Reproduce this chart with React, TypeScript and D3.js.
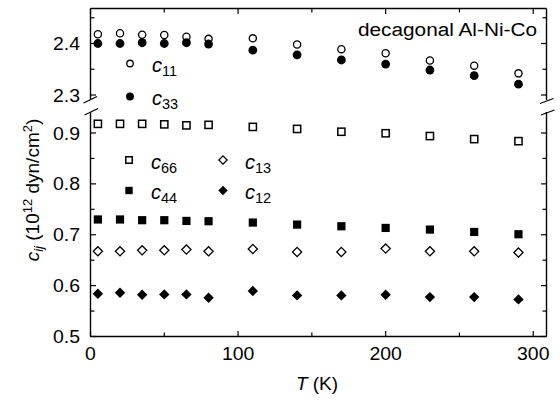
import React from "react";
import * as d3 from "d3";

const T = [5, 20, 35, 50, 65, 80, 110, 140, 170, 200, 230, 260, 290];
const c11 = [2.418, 2.42, 2.417, 2.4165, 2.413, 2.409, 2.41, 2.398, 2.389, 2.381, 2.367, 2.357, 2.342];
const c33 = [2.4, 2.4, 2.4015, 2.4, 2.4015, 2.399, 2.387, 2.378, 2.368, 2.36, 2.3485, 2.3375, 2.321];
const c66 = [0.918, 0.918, 0.918, 0.917, 0.915, 0.916, 0.912, 0.908, 0.9025, 0.8995, 0.894, 0.888, 0.884];
const c44 = [0.73, 0.73, 0.7286, 0.7286, 0.7272, 0.7266, 0.724, 0.72, 0.7167, 0.7134, 0.7102, 0.7055, 0.701];
const c13 = [0.6675, 0.6675, 0.6695, 0.6695, 0.6708, 0.6675, 0.672, 0.6661, 0.6661, 0.6728, 0.6675, 0.6675, 0.665];
const c12 = [0.5841, 0.5861, 0.5822, 0.5828, 0.5828, 0.5763, 0.5893, 0.5808, 0.5808, 0.5822, 0.5774, 0.5774, 0.5729];

const xMajor = [0, 100, 200, 300];
const xMinor = [50, 150, 250];
const yLoMajor = [0.5, 0.6, 0.7, 0.8, 0.9];
const yLoMinor = [0.55, 0.65, 0.75, 0.85];
const yUpMajor = [2.3, 2.4];
const yUpMinor = [2.35, 2.45];

const FONT = "'Liberation Sans', Arial, Helvetica, sans-serif";

const L = 90.5, R = 546.5, TOP = 8.5, BOT = 336.5;
const UP_END = 100, LO_START = 112;

const x = d3.scaleLinear().domain([0, 309]).range([L, R]);
const yUp = d3.scaleLinear().domain([2.3, 2.4]).range([95, 43.5]);
const yLo = d3.scaleLinear().domain([0.5, 0.9]).range([336.5, 133]);

type Shape = "circleOpen" | "circleFilled" | "squareOpen" | "squareFilled" | "diamondOpen" | "diamondFilled";

function Marker({ cx, cy, shape, k = 1 }: { cx: number; cy: number; shape: Shape; k?: number }) {
  switch (shape) {
    case "circleOpen":
      return <circle cx={cx} cy={cy} r={3.6 * k} fill="#fff" stroke="#000" strokeWidth={1.3} />;
    case "circleFilled":
      return <circle cx={cx} cy={cy} r={4.4 * k} fill="#000" />;
    case "squareOpen": {
      const h = 3.6 * k;
      return <rect x={cx - h} y={cy - h} width={2 * h} height={2 * h} fill="#fff" stroke="#000" strokeWidth={1.5} />;
    }
    case "squareFilled": {
      const h = 4.1 * k;
      return <rect x={cx - h} y={cy - h} width={2 * h} height={2 * h} fill="#000" />;
    }
    case "diamondOpen": {
      const h = 4.6 * k;
      return <path d={`M${cx},${cy - h}L${cx + h},${cy}L${cx},${cy + h}L${cx - h},${cy}Z`} fill="#fff" stroke="#000" strokeWidth={1.3} />;
    }
    case "diamondFilled": {
      const h = 5.2 * k;
      return <path d={`M${cx},${cy - h}L${cx + h},${cy}L${cx},${cy + h}L${cx - h},${cy}Z`} fill="#000" />;
    }
  }
  return null;
}

const series: { vals: number[]; shape: Shape; upper: boolean }[] = [
  { vals: c11, shape: "circleOpen", upper: true },
  { vals: c33, shape: "circleFilled", upper: true },
  { vals: c66, shape: "squareOpen", upper: false },
  { vals: c44, shape: "squareFilled", upper: false },
  { vals: c13, shape: "diamondOpen", upper: false },
  { vals: c12, shape: "diamondFilled", upper: false },
];

function Label({ x0, y0, text, anchor = "middle", sx = 1.08, size = 18 }: { x0: number; y0: number; text: string; anchor?: string; sx?: number; size?: number }) {
  return (
    <text transform={`translate(${x0},${y0}) scale(${sx},1)`} textAnchor={anchor as any} fontSize={size} fontFamily={FONT} fill="#000">
      {text}
    </text>
  );
}

function LegendItem({ mx, my, shape, sub }: { mx: number; my: number; shape: Shape; sub: string }) {
  return (
    <g>
      <Marker cx={mx} cy={my} shape={shape} k={0.9} />
      <text x={mx + 22} y={my + 8.5} fontFamily={FONT} fontSize={20} fill="#000">
        <tspan fontStyle="italic">c</tspan>
        <tspan fontSize={14.5} dy={4}>{sub}</tspan>
      </text>
    </g>
  );
}

export default function App() {
  const sw = 1.4;
  const ticks: JSX.Element[] = [];
  xMajor.forEach((v, i) => {
    const px = x(v);
    ticks.push(<line key={`xb${i}`} x1={px} x2={px} y1={BOT} y2={BOT - 5.5} stroke="#000" strokeWidth={1.2} />);
    ticks.push(<line key={`xt${i}`} x1={px} x2={px} y1={TOP} y2={TOP + 5.5} stroke="#000" strokeWidth={1.2} />);
  });
  xMinor.forEach((v, i) => {
    const px = x(v);
    ticks.push(<line key={`xbm${i}`} x1={px} x2={px} y1={BOT} y2={BOT - 4} stroke="#000" strokeWidth={1.2} />);
    ticks.push(<line key={`xtm${i}`} x1={px} x2={px} y1={TOP} y2={TOP + 4} stroke="#000" strokeWidth={1.2} />);
  });
  const yTick = (py: number, len: number, k: string) => {
    ticks.push(<line key={`yl${k}`} x1={L} x2={L + len} y1={py} y2={py} stroke="#000" strokeWidth={1.2} />);
    ticks.push(<line key={`yr${k}`} x1={R} x2={R - len} y1={py} y2={py} stroke="#000" strokeWidth={1.2} />);
  };
  yLoMajor.forEach((v, i) => yTick(yLo(v), 5.5, `lo${i}`));
  yLoMinor.forEach((v, i) => yTick(yLo(v), 4, `lom${i}`));
  yUpMajor.forEach((v, i) => yTick(yUp(v), 5.5, `up${i}`));
  yUpMinor.forEach((v, i) => yTick(yUp(v), 4, `upm${i}`));

  return (
    <svg width={560} height={401} style={{ position: "absolute", left: 0, top: 0, background: "#fff" }}>
      <rect x={0} y={0} width={560} height={401} fill="#fff" />
      {/* frame */}
      <line x1={L} x2={R} y1={BOT} y2={BOT} stroke="#000" strokeWidth={sw} />
      <line x1={L} x2={R} y1={TOP} y2={TOP} stroke="#000" strokeWidth={sw} />
      <line x1={L} x2={L} y1={TOP} y2={UP_END} stroke="#000" strokeWidth={sw} />
      <line x1={L} x2={L} y1={LO_START} y2={BOT} stroke="#000" strokeWidth={sw} />
      <line x1={R} x2={R} y1={TOP} y2={UP_END} stroke="#000" strokeWidth={sw} />
      <line x1={R} x2={R} y1={LO_START} y2={BOT} stroke="#000" strokeWidth={sw} />
      {/* break marks */}
      <line x1={83.5} y1={103} x2={97} y2={96.5} stroke="#000" strokeWidth={1.2} />
      <line x1={84.5} y1={115} x2={98} y2={108.5} stroke="#000" strokeWidth={1.2} />
      <line x1={540} y1={103.5} x2={553.5} y2={98.5} stroke="#000" strokeWidth={1.2} />
      <line x1={541} y1={115} x2={554.5} y2={110} stroke="#000" strokeWidth={1.2} />
      {ticks}
      {/* tick labels */}
      {xMajor.map((v, i) => (
        <Label key={`xl${i}`} x0={x(v)} y0={360} text={String(v)} />
      ))}
      {yLoMajor.map((v, i) => (
        <Label key={`yll${i}`} x0={80} y0={yLo(v) + 6.5} text={v.toFixed(1)} anchor="end" />
      ))}
      {yUpMajor.map((v, i) => (
        <Label key={`yul${i}`} x0={80} y0={yUp(v) + 6.5} text={v.toFixed(1)} anchor="end" />
      ))}
      {/* axis titles */}
      <text x={317} y={390} textAnchor="middle" fontFamily={FONT} fontSize={19} fill="#000">
        <tspan fontStyle="italic">T</tspan>
        <tspan> (K)</tspan>
      </text>
      <text transform="translate(39,190) rotate(-90)" textAnchor="middle" fontFamily={FONT} fontSize={19} fill="#000">
        <tspan fontStyle="italic">c</tspan>
        <tspan fontStyle="italic" fontSize={13} dy={4}>ij</tspan>
        <tspan dy={-4}> (10</tspan>
        <tspan fontSize={13} dy={-7}>12</tspan>
        <tspan dy={7}> dyn/cm</tspan>
        <tspan fontSize={13} dy={-7}>2</tspan>
        <tspan dy={7}>)</tspan>
      </text>
      {/* title */}
      <text x={358} y={36} fontFamily={FONT} fontSize={18} textLength={179} lengthAdjust="spacingAndGlyphs" fill="#000">
        decagonal Al-Ni-Co
      </text>
      {/* data */}
      {series.map((s, si) => (
        <g key={si}>
          {s.vals.map((v, i) => (
            <Marker key={i} cx={x(T[i])} cy={s.upper ? yUp(v) : yLo(v)} shape={s.shape} />
          ))}
        </g>
      ))}
      {/* legends */}
      <LegendItem mx={130} my={63.5} shape="circleOpen" sub="11" />
      <LegendItem mx={130} my={96.5} shape="circleFilled" sub="33" />
      <LegendItem mx={129} my={160} shape="squareOpen" sub="66" />
      <LegendItem mx={129} my={190.5} shape="squareFilled" sub="44" />
      <LegendItem mx={223} my={160} shape="diamondOpen" sub="13" />
      <LegendItem mx={223} my={190.5} shape="diamondFilled" sub="12" />
    </svg>
  );
}
